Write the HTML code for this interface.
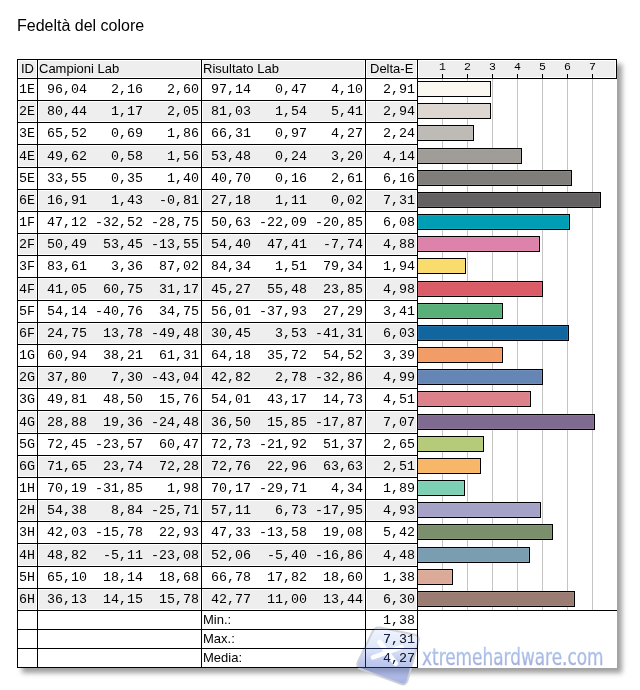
<!DOCTYPE html>
<html><head><meta charset="utf-8"><title>Fedeltà del colore</title>
<style>
html,body{margin:0;padding:0;background:#fff;width:640px;height:690px;overflow:hidden}
body{position:relative}
div{position:absolute;box-sizing:border-box}
.c{box-shadow:inset 0 0 0 1px #fff}
.h{font:13px/17px "Liberation Sans",Arial,sans-serif;color:#000;white-space:nowrap}
.n{font:13.333px/17px "Liberation Mono","Courier New",monospace;color:#000;white-space:pre;width:80px;text-align:right}
.n.id{width:auto;text-align:left}
.tk{font:11.5px/13px "Liberation Mono","Courier New",monospace;text-align:center;color:#000}
#wmt{left:421.5px;top:642px;-webkit-text-stroke:0.4px transparent;font-family:'DejaVu Sans';font-stretch:condensed;font-size:23.5px;line-height:30px;color:transparent;background:linear-gradient(#aec8f0 25%,#a2aad8 85%);-webkit-background-clip:text;background-clip:text;white-space:nowrap;transform:scaleX(0.8);transform-origin:0 0}
#title{left:17px;top:16px;font:16px/19px "Liberation Sans",Arial,sans-serif;color:#000;white-space:nowrap}
</style></head><body>
<div id="title">Fedeltà del colore</div>
<div style="left:17px;top:59px;width:600px;height:609px;background:#fff;box-shadow:5px 5px 5px rgba(0,0,0,.38)"></div>
<div class="c" style="left:18px;top:60px;width:19px;height:18px;background:#eeeeee"></div>
<div class="c" style="left:38px;top:60px;width:163px;height:18px;background:#eeeeee"></div>
<div class="c" style="left:202px;top:60px;width:163px;height:18px;background:#eeeeee"></div>
<div class="c" style="left:366px;top:60px;width:51px;height:18px;background:#eeeeee"></div>
<div class="c" style="left:418px;top:60px;width:198px;height:18px;background:#eeeeee"></div>
<div class="c" style="left:18px;top:101px;width:19px;height:21px;background:#eeeeee"></div>
<div class="c" style="left:38px;top:101px;width:163px;height:21px;background:#eeeeee"></div>
<div class="c" style="left:202px;top:101px;width:163px;height:21px;background:#eeeeee"></div>
<div class="c" style="left:366px;top:101px;width:51px;height:21px;background:#eeeeee"></div>
<div class="c" style="left:18px;top:145px;width:19px;height:22px;background:#eeeeee"></div>
<div class="c" style="left:38px;top:145px;width:163px;height:22px;background:#eeeeee"></div>
<div class="c" style="left:202px;top:145px;width:163px;height:22px;background:#eeeeee"></div>
<div class="c" style="left:366px;top:145px;width:51px;height:22px;background:#eeeeee"></div>
<div class="c" style="left:18px;top:190px;width:19px;height:21px;background:#eeeeee"></div>
<div class="c" style="left:38px;top:190px;width:163px;height:21px;background:#eeeeee"></div>
<div class="c" style="left:202px;top:190px;width:163px;height:21px;background:#eeeeee"></div>
<div class="c" style="left:366px;top:190px;width:51px;height:21px;background:#eeeeee"></div>
<div class="c" style="left:18px;top:234px;width:19px;height:21px;background:#eeeeee"></div>
<div class="c" style="left:38px;top:234px;width:163px;height:21px;background:#eeeeee"></div>
<div class="c" style="left:202px;top:234px;width:163px;height:21px;background:#eeeeee"></div>
<div class="c" style="left:366px;top:234px;width:51px;height:21px;background:#eeeeee"></div>
<div class="c" style="left:18px;top:278px;width:19px;height:22px;background:#eeeeee"></div>
<div class="c" style="left:38px;top:278px;width:163px;height:22px;background:#eeeeee"></div>
<div class="c" style="left:202px;top:278px;width:163px;height:22px;background:#eeeeee"></div>
<div class="c" style="left:366px;top:278px;width:51px;height:22px;background:#eeeeee"></div>
<div class="c" style="left:18px;top:323px;width:19px;height:21px;background:#eeeeee"></div>
<div class="c" style="left:38px;top:323px;width:163px;height:21px;background:#eeeeee"></div>
<div class="c" style="left:202px;top:323px;width:163px;height:21px;background:#eeeeee"></div>
<div class="c" style="left:366px;top:323px;width:51px;height:21px;background:#eeeeee"></div>
<div class="c" style="left:18px;top:367px;width:19px;height:21px;background:#eeeeee"></div>
<div class="c" style="left:38px;top:367px;width:163px;height:21px;background:#eeeeee"></div>
<div class="c" style="left:202px;top:367px;width:163px;height:21px;background:#eeeeee"></div>
<div class="c" style="left:366px;top:367px;width:51px;height:21px;background:#eeeeee"></div>
<div class="c" style="left:18px;top:411px;width:19px;height:22px;background:#eeeeee"></div>
<div class="c" style="left:38px;top:411px;width:163px;height:22px;background:#eeeeee"></div>
<div class="c" style="left:202px;top:411px;width:163px;height:22px;background:#eeeeee"></div>
<div class="c" style="left:366px;top:411px;width:51px;height:22px;background:#eeeeee"></div>
<div class="c" style="left:18px;top:456px;width:19px;height:21px;background:#eeeeee"></div>
<div class="c" style="left:38px;top:456px;width:163px;height:21px;background:#eeeeee"></div>
<div class="c" style="left:202px;top:456px;width:163px;height:21px;background:#eeeeee"></div>
<div class="c" style="left:366px;top:456px;width:51px;height:21px;background:#eeeeee"></div>
<div class="c" style="left:18px;top:500px;width:19px;height:21px;background:#eeeeee"></div>
<div class="c" style="left:38px;top:500px;width:163px;height:21px;background:#eeeeee"></div>
<div class="c" style="left:202px;top:500px;width:163px;height:21px;background:#eeeeee"></div>
<div class="c" style="left:366px;top:500px;width:51px;height:21px;background:#eeeeee"></div>
<div class="c" style="left:18px;top:544px;width:19px;height:22px;background:#eeeeee"></div>
<div class="c" style="left:38px;top:544px;width:163px;height:22px;background:#eeeeee"></div>
<div class="c" style="left:202px;top:544px;width:163px;height:22px;background:#eeeeee"></div>
<div class="c" style="left:366px;top:544px;width:51px;height:22px;background:#eeeeee"></div>
<div class="c" style="left:18px;top:589px;width:19px;height:21px;background:#eeeeee"></div>
<div class="c" style="left:38px;top:589px;width:163px;height:21px;background:#eeeeee"></div>
<div class="c" style="left:202px;top:589px;width:163px;height:21px;background:#eeeeee"></div>
<div class="c" style="left:366px;top:589px;width:51px;height:21px;background:#eeeeee"></div>
<div style="left:442px;top:79px;width:1px;height:531px;background:#c4c4c4"></div>
<div style="left:442px;top:74px;width:1px;height:4px;background:#000"></div>
<div class="tk" style="left:432px;top:60px;width:21px">1</div>
<div style="left:467px;top:79px;width:1px;height:531px;background:#c4c4c4"></div>
<div style="left:467px;top:74px;width:1px;height:4px;background:#000"></div>
<div class="tk" style="left:457px;top:60px;width:21px">2</div>
<div style="left:492px;top:79px;width:1px;height:531px;background:#c4c4c4"></div>
<div style="left:492px;top:74px;width:1px;height:4px;background:#000"></div>
<div class="tk" style="left:482px;top:60px;width:21px">3</div>
<div style="left:517px;top:79px;width:1px;height:531px;background:#c4c4c4"></div>
<div style="left:517px;top:74px;width:1px;height:4px;background:#000"></div>
<div class="tk" style="left:507px;top:60px;width:21px">4</div>
<div style="left:542px;top:79px;width:1px;height:531px;background:#c4c4c4"></div>
<div style="left:542px;top:74px;width:1px;height:4px;background:#000"></div>
<div class="tk" style="left:532px;top:60px;width:21px">5</div>
<div style="left:567px;top:79px;width:1px;height:531px;background:#c4c4c4"></div>
<div style="left:567px;top:74px;width:1px;height:4px;background:#000"></div>
<div class="tk" style="left:557px;top:60px;width:21px">6</div>
<div style="left:592px;top:79px;width:1px;height:531px;background:#c4c4c4"></div>
<div style="left:592px;top:74px;width:1px;height:4px;background:#000"></div>
<div class="tk" style="left:582px;top:60px;width:21px">7</div>
<div style="left:417px;top:81px;width:74px;height:16px;background:#fbf8f1;border:1px solid #000;box-shadow:inset 0 0 0 1px rgba(255,255,255,.08)"></div>
<div style="left:417px;top:103px;width:74px;height:16px;background:#ddd6d1;border:1px solid #000;box-shadow:inset 0 0 0 1px rgba(255,255,255,.08)"></div>
<div style="left:417px;top:125px;width:57px;height:16px;background:#bebbb6;border:1px solid #000;box-shadow:inset 0 0 0 1px rgba(255,255,255,.08)"></div>
<div style="left:417px;top:148px;width:105px;height:16px;background:#a09d98;border:1px solid #000;box-shadow:inset 0 0 0 1px rgba(255,255,255,.08)"></div>
<div style="left:417px;top:170px;width:155px;height:16px;background:#7f7e7a;border:1px solid #000;box-shadow:inset 0 0 0 1px rgba(255,255,255,.08)"></div>
<div style="left:417px;top:192px;width:184px;height:16px;background:#646163;border:1px solid #000;box-shadow:inset 0 0 0 1px rgba(255,255,255,.08)"></div>
<div style="left:417px;top:214px;width:153px;height:16px;background:#009eb4;border:1px solid #000;box-shadow:inset 0 0 0 1px rgba(255,255,255,.08)"></div>
<div style="left:417px;top:236px;width:123px;height:16px;background:#dd82aa;border:1px solid #000;box-shadow:inset 0 0 0 1px rgba(255,255,255,.08)"></div>
<div style="left:417px;top:258px;width:49px;height:16px;background:#f9dc6b;border:1px solid #000;box-shadow:inset 0 0 0 1px rgba(255,255,255,.08)"></div>
<div style="left:417px;top:281px;width:126px;height:16px;background:#d95c67;border:1px solid #000;box-shadow:inset 0 0 0 1px rgba(255,255,255,.08)"></div>
<div style="left:417px;top:303px;width:86px;height:16px;background:#59af78;border:1px solid #000;box-shadow:inset 0 0 0 1px rgba(255,255,255,.08)"></div>
<div style="left:417px;top:325px;width:152px;height:16px;background:#1266a0;border:1px solid #000;box-shadow:inset 0 0 0 1px rgba(255,255,255,.08)"></div>
<div style="left:417px;top:347px;width:86px;height:16px;background:#f29d68;border:1px solid #000;box-shadow:inset 0 0 0 1px rgba(255,255,255,.08)"></div>
<div style="left:417px;top:369px;width:126px;height:16px;background:#6586b5;border:1px solid #000;box-shadow:inset 0 0 0 1px rgba(255,255,255,.08)"></div>
<div style="left:417px;top:391px;width:114px;height:16px;background:#dc808a;border:1px solid #000;box-shadow:inset 0 0 0 1px rgba(255,255,255,.08)"></div>
<div style="left:417px;top:414px;width:178px;height:16px;background:#7f6b8f;border:1px solid #000;box-shadow:inset 0 0 0 1px rgba(255,255,255,.08)"></div>
<div style="left:417px;top:436px;width:67px;height:16px;background:#b5cb7a;border:1px solid #000;box-shadow:inset 0 0 0 1px rgba(255,255,255,.08)"></div>
<div style="left:417px;top:458px;width:64px;height:16px;background:#f8b768;border:1px solid #000;box-shadow:inset 0 0 0 1px rgba(255,255,255,.08)"></div>
<div style="left:417px;top:480px;width:48px;height:16px;background:#7ed0b5;border:1px solid #000;box-shadow:inset 0 0 0 1px rgba(255,255,255,.08)"></div>
<div style="left:417px;top:502px;width:124px;height:16px;background:#a4a2c6;border:1px solid #000;box-shadow:inset 0 0 0 1px rgba(255,255,255,.08)"></div>
<div style="left:417px;top:524px;width:136px;height:16px;background:#7b8f6c;border:1px solid #000;box-shadow:inset 0 0 0 1px rgba(255,255,255,.08)"></div>
<div style="left:417px;top:547px;width:113px;height:16px;background:#7a9db2;border:1px solid #000;box-shadow:inset 0 0 0 1px rgba(255,255,255,.08)"></div>
<div style="left:417px;top:569px;width:36px;height:16px;background:#dcaa98;border:1px solid #000;box-shadow:inset 0 0 0 1px rgba(255,255,255,.08)"></div>
<div style="left:417px;top:591px;width:158px;height:16px;background:#9a7c72;border:1px solid #000;box-shadow:inset 0 0 0 1px rgba(255,255,255,.08)"></div>
<svg style="position:absolute;left:0;top:0" width="640" height="690" viewBox="0 0 640 690">
<defs>
<linearGradient id="lg" x1="0" y1="0" x2="0" y2="1">
<stop offset="0" stop-color="#dce8fa" stop-opacity="0.4"/>
<stop offset="0.35" stop-color="#b8c8f0" stop-opacity="0.45"/>
<stop offset="0.6" stop-color="#8a9ee0" stop-opacity="0.55"/>
<stop offset="1" stop-color="#7080d0" stop-opacity="0.62"/>
</linearGradient>
<linearGradient id="tg" x1="0" y1="0" x2="0" y2="1">
<stop offset="0" stop-color="#acc6ee"/>
<stop offset="1" stop-color="#a6aed8"/>
</linearGradient>
</defs>
<path d="M372.4 632.0 Q375.0 626.6 380.9 627.8 L414.1 634.4 Q420.0 635.6 418.4 641.4 L407.6 680.2 Q406.0 686.0 400.4 683.9 L361.0 669.3 Q355.4 667.2 358.0 661.8 Z" fill="url(#lg)" stroke="#cdcfd6" stroke-opacity="0.9" stroke-width="2"/>
<path d="M379.7 642.2 L395.6 663.5" stroke="#fff" stroke-opacity="0.95" stroke-width="5" stroke-linecap="round"/>
<path d="M372.9 657.3 L401.7 647" stroke="#fff" stroke-opacity="0.95" stroke-width="4.6" stroke-linecap="round"/>
</svg>
<div id="wmt">xtremehardware.com</div>
<div style="left:17px;top:59px;width:600px;height:1px;background:#000"></div>
<div style="left:17px;top:78px;width:600px;height:1px;background:#000"></div>
<div style="left:17px;top:100px;width:401px;height:1px;background:#000"></div>
<div style="left:17px;top:122px;width:401px;height:1px;background:#000"></div>
<div style="left:17px;top:144px;width:401px;height:1px;background:#000"></div>
<div style="left:17px;top:167px;width:401px;height:1px;background:#000"></div>
<div style="left:17px;top:189px;width:401px;height:1px;background:#000"></div>
<div style="left:17px;top:211px;width:401px;height:1px;background:#000"></div>
<div style="left:17px;top:233px;width:401px;height:1px;background:#000"></div>
<div style="left:17px;top:255px;width:401px;height:1px;background:#000"></div>
<div style="left:17px;top:277px;width:401px;height:1px;background:#000"></div>
<div style="left:17px;top:300px;width:401px;height:1px;background:#000"></div>
<div style="left:17px;top:322px;width:401px;height:1px;background:#000"></div>
<div style="left:17px;top:344px;width:401px;height:1px;background:#000"></div>
<div style="left:17px;top:366px;width:401px;height:1px;background:#000"></div>
<div style="left:17px;top:388px;width:401px;height:1px;background:#000"></div>
<div style="left:17px;top:410px;width:401px;height:1px;background:#000"></div>
<div style="left:17px;top:433px;width:401px;height:1px;background:#000"></div>
<div style="left:17px;top:455px;width:401px;height:1px;background:#000"></div>
<div style="left:17px;top:477px;width:401px;height:1px;background:#000"></div>
<div style="left:17px;top:499px;width:401px;height:1px;background:#000"></div>
<div style="left:17px;top:521px;width:401px;height:1px;background:#000"></div>
<div style="left:17px;top:543px;width:401px;height:1px;background:#000"></div>
<div style="left:17px;top:566px;width:401px;height:1px;background:#000"></div>
<div style="left:17px;top:588px;width:401px;height:1px;background:#000"></div>
<div style="left:17px;top:610px;width:600px;height:1px;background:#000"></div>
<div style="left:17px;top:629px;width:401px;height:1px;background:#000"></div>
<div style="left:17px;top:648px;width:401px;height:1px;background:#000"></div>
<div style="left:17px;top:667px;width:401px;height:1px;background:#000"></div>
<div style="left:17px;top:59px;width:1px;height:609px;background:#000"></div>
<div style="left:37px;top:59px;width:1px;height:609px;background:#000"></div>
<div style="left:201px;top:59px;width:1px;height:609px;background:#000"></div>
<div style="left:365px;top:59px;width:1px;height:609px;background:#000"></div>
<div style="left:417px;top:59px;width:1px;height:609px;background:#000"></div>
<div style="left:616px;top:59px;width:1px;height:20px;background:#000"></div>
<div class="h" style="left:21px;top:60px">ID</div>
<div class="h" style="left:39px;top:60px">Campioni Lab</div>
<div class="h" style="left:203px;top:60px">Risultato Lab</div>
<div class="h" style="left:370px;top:60px">Delta-E</div>
<div class="n id" style="left:19px;top:81px">1E</div>
<div class="n" style="left:7px;top:81px">96,04</div>
<div class="n" style="left:63px;top:81px">2,16</div>
<div class="n" style="left:119px;top:81px">2,60</div>
<div class="n" style="left:171px;top:81px">97,14</div>
<div class="n" style="left:227px;top:81px">0,47</div>
<div class="n" style="left:283px;top:81px">4,10</div>
<div class="n" style="left:335px;top:81px">2,91</div>
<div class="n id" style="left:19px;top:103px">2E</div>
<div class="n" style="left:7px;top:103px">80,44</div>
<div class="n" style="left:63px;top:103px">1,17</div>
<div class="n" style="left:119px;top:103px">2,05</div>
<div class="n" style="left:171px;top:103px">81,03</div>
<div class="n" style="left:227px;top:103px">1,54</div>
<div class="n" style="left:283px;top:103px">5,41</div>
<div class="n" style="left:335px;top:103px">2,94</div>
<div class="n id" style="left:19px;top:125px">3E</div>
<div class="n" style="left:7px;top:125px">65,52</div>
<div class="n" style="left:63px;top:125px">0,69</div>
<div class="n" style="left:119px;top:125px">1,86</div>
<div class="n" style="left:171px;top:125px">66,31</div>
<div class="n" style="left:227px;top:125px">0,97</div>
<div class="n" style="left:283px;top:125px">4,27</div>
<div class="n" style="left:335px;top:125px">2,24</div>
<div class="n id" style="left:19px;top:148px">4E</div>
<div class="n" style="left:7px;top:148px">49,62</div>
<div class="n" style="left:63px;top:148px">0,58</div>
<div class="n" style="left:119px;top:148px">1,56</div>
<div class="n" style="left:171px;top:148px">53,48</div>
<div class="n" style="left:227px;top:148px">0,24</div>
<div class="n" style="left:283px;top:148px">3,20</div>
<div class="n" style="left:335px;top:148px">4,14</div>
<div class="n id" style="left:19px;top:170px">5E</div>
<div class="n" style="left:7px;top:170px">33,55</div>
<div class="n" style="left:63px;top:170px">0,35</div>
<div class="n" style="left:119px;top:170px">1,40</div>
<div class="n" style="left:171px;top:170px">40,70</div>
<div class="n" style="left:227px;top:170px">0,16</div>
<div class="n" style="left:283px;top:170px">2,61</div>
<div class="n" style="left:335px;top:170px">6,16</div>
<div class="n id" style="left:19px;top:192px">6E</div>
<div class="n" style="left:7px;top:192px">16,91</div>
<div class="n" style="left:63px;top:192px">1,43</div>
<div class="n" style="left:119px;top:192px">-0,81</div>
<div class="n" style="left:171px;top:192px">27,18</div>
<div class="n" style="left:227px;top:192px">1,11</div>
<div class="n" style="left:283px;top:192px">0,02</div>
<div class="n" style="left:335px;top:192px">7,31</div>
<div class="n id" style="left:19px;top:214px">1F</div>
<div class="n" style="left:7px;top:214px">47,12</div>
<div class="n" style="left:63px;top:214px">-32,52</div>
<div class="n" style="left:119px;top:214px">-28,75</div>
<div class="n" style="left:171px;top:214px">50,63</div>
<div class="n" style="left:227px;top:214px">-22,09</div>
<div class="n" style="left:283px;top:214px">-20,85</div>
<div class="n" style="left:335px;top:214px">6,08</div>
<div class="n id" style="left:19px;top:236px">2F</div>
<div class="n" style="left:7px;top:236px">50,49</div>
<div class="n" style="left:63px;top:236px">53,45</div>
<div class="n" style="left:119px;top:236px">-13,55</div>
<div class="n" style="left:171px;top:236px">54,40</div>
<div class="n" style="left:227px;top:236px">47,41</div>
<div class="n" style="left:283px;top:236px">-7,74</div>
<div class="n" style="left:335px;top:236px">4,88</div>
<div class="n id" style="left:19px;top:258px">3F</div>
<div class="n" style="left:7px;top:258px">83,61</div>
<div class="n" style="left:63px;top:258px">3,36</div>
<div class="n" style="left:119px;top:258px">87,02</div>
<div class="n" style="left:171px;top:258px">84,34</div>
<div class="n" style="left:227px;top:258px">1,51</div>
<div class="n" style="left:283px;top:258px">79,34</div>
<div class="n" style="left:335px;top:258px">1,94</div>
<div class="n id" style="left:19px;top:281px">4F</div>
<div class="n" style="left:7px;top:281px">41,05</div>
<div class="n" style="left:63px;top:281px">60,75</div>
<div class="n" style="left:119px;top:281px">31,17</div>
<div class="n" style="left:171px;top:281px">45,27</div>
<div class="n" style="left:227px;top:281px">55,48</div>
<div class="n" style="left:283px;top:281px">23,85</div>
<div class="n" style="left:335px;top:281px">4,98</div>
<div class="n id" style="left:19px;top:303px">5F</div>
<div class="n" style="left:7px;top:303px">54,14</div>
<div class="n" style="left:63px;top:303px">-40,76</div>
<div class="n" style="left:119px;top:303px">34,75</div>
<div class="n" style="left:171px;top:303px">56,01</div>
<div class="n" style="left:227px;top:303px">-37,93</div>
<div class="n" style="left:283px;top:303px">27,29</div>
<div class="n" style="left:335px;top:303px">3,41</div>
<div class="n id" style="left:19px;top:325px">6F</div>
<div class="n" style="left:7px;top:325px">24,75</div>
<div class="n" style="left:63px;top:325px">13,78</div>
<div class="n" style="left:119px;top:325px">-49,48</div>
<div class="n" style="left:171px;top:325px">30,45</div>
<div class="n" style="left:227px;top:325px">3,53</div>
<div class="n" style="left:283px;top:325px">-41,31</div>
<div class="n" style="left:335px;top:325px">6,03</div>
<div class="n id" style="left:19px;top:347px">1G</div>
<div class="n" style="left:7px;top:347px">60,94</div>
<div class="n" style="left:63px;top:347px">38,21</div>
<div class="n" style="left:119px;top:347px">61,31</div>
<div class="n" style="left:171px;top:347px">64,18</div>
<div class="n" style="left:227px;top:347px">35,72</div>
<div class="n" style="left:283px;top:347px">54,52</div>
<div class="n" style="left:335px;top:347px">3,39</div>
<div class="n id" style="left:19px;top:369px">2G</div>
<div class="n" style="left:7px;top:369px">37,80</div>
<div class="n" style="left:63px;top:369px">7,30</div>
<div class="n" style="left:119px;top:369px">-43,04</div>
<div class="n" style="left:171px;top:369px">42,82</div>
<div class="n" style="left:227px;top:369px">2,78</div>
<div class="n" style="left:283px;top:369px">-32,86</div>
<div class="n" style="left:335px;top:369px">4,99</div>
<div class="n id" style="left:19px;top:391px">3G</div>
<div class="n" style="left:7px;top:391px">49,81</div>
<div class="n" style="left:63px;top:391px">48,50</div>
<div class="n" style="left:119px;top:391px">15,76</div>
<div class="n" style="left:171px;top:391px">54,01</div>
<div class="n" style="left:227px;top:391px">43,17</div>
<div class="n" style="left:283px;top:391px">14,73</div>
<div class="n" style="left:335px;top:391px">4,51</div>
<div class="n id" style="left:19px;top:414px">4G</div>
<div class="n" style="left:7px;top:414px">28,88</div>
<div class="n" style="left:63px;top:414px">19,36</div>
<div class="n" style="left:119px;top:414px">-24,48</div>
<div class="n" style="left:171px;top:414px">36,50</div>
<div class="n" style="left:227px;top:414px">15,85</div>
<div class="n" style="left:283px;top:414px">-17,87</div>
<div class="n" style="left:335px;top:414px">7,07</div>
<div class="n id" style="left:19px;top:436px">5G</div>
<div class="n" style="left:7px;top:436px">72,45</div>
<div class="n" style="left:63px;top:436px">-23,57</div>
<div class="n" style="left:119px;top:436px">60,47</div>
<div class="n" style="left:171px;top:436px">72,73</div>
<div class="n" style="left:227px;top:436px">-21,92</div>
<div class="n" style="left:283px;top:436px">51,37</div>
<div class="n" style="left:335px;top:436px">2,65</div>
<div class="n id" style="left:19px;top:458px">6G</div>
<div class="n" style="left:7px;top:458px">71,65</div>
<div class="n" style="left:63px;top:458px">23,74</div>
<div class="n" style="left:119px;top:458px">72,28</div>
<div class="n" style="left:171px;top:458px">72,76</div>
<div class="n" style="left:227px;top:458px">22,96</div>
<div class="n" style="left:283px;top:458px">63,63</div>
<div class="n" style="left:335px;top:458px">2,51</div>
<div class="n id" style="left:19px;top:480px">1H</div>
<div class="n" style="left:7px;top:480px">70,19</div>
<div class="n" style="left:63px;top:480px">-31,85</div>
<div class="n" style="left:119px;top:480px">1,98</div>
<div class="n" style="left:171px;top:480px">70,17</div>
<div class="n" style="left:227px;top:480px">-29,71</div>
<div class="n" style="left:283px;top:480px">4,34</div>
<div class="n" style="left:335px;top:480px">1,89</div>
<div class="n id" style="left:19px;top:502px">2H</div>
<div class="n" style="left:7px;top:502px">54,38</div>
<div class="n" style="left:63px;top:502px">8,84</div>
<div class="n" style="left:119px;top:502px">-25,71</div>
<div class="n" style="left:171px;top:502px">57,11</div>
<div class="n" style="left:227px;top:502px">6,73</div>
<div class="n" style="left:283px;top:502px">-17,95</div>
<div class="n" style="left:335px;top:502px">4,93</div>
<div class="n id" style="left:19px;top:524px">3H</div>
<div class="n" style="left:7px;top:524px">42,03</div>
<div class="n" style="left:63px;top:524px">-15,78</div>
<div class="n" style="left:119px;top:524px">22,93</div>
<div class="n" style="left:171px;top:524px">47,33</div>
<div class="n" style="left:227px;top:524px">-13,58</div>
<div class="n" style="left:283px;top:524px">19,08</div>
<div class="n" style="left:335px;top:524px">5,42</div>
<div class="n id" style="left:19px;top:547px">4H</div>
<div class="n" style="left:7px;top:547px">48,82</div>
<div class="n" style="left:63px;top:547px">-5,11</div>
<div class="n" style="left:119px;top:547px">-23,08</div>
<div class="n" style="left:171px;top:547px">52,06</div>
<div class="n" style="left:227px;top:547px">-5,40</div>
<div class="n" style="left:283px;top:547px">-16,86</div>
<div class="n" style="left:335px;top:547px">4,48</div>
<div class="n id" style="left:19px;top:569px">5H</div>
<div class="n" style="left:7px;top:569px">65,10</div>
<div class="n" style="left:63px;top:569px">18,14</div>
<div class="n" style="left:119px;top:569px">18,68</div>
<div class="n" style="left:171px;top:569px">66,78</div>
<div class="n" style="left:227px;top:569px">17,82</div>
<div class="n" style="left:283px;top:569px">18,60</div>
<div class="n" style="left:335px;top:569px">1,38</div>
<div class="n id" style="left:19px;top:591px">6H</div>
<div class="n" style="left:7px;top:591px">36,13</div>
<div class="n" style="left:63px;top:591px">14,15</div>
<div class="n" style="left:119px;top:591px">15,78</div>
<div class="n" style="left:171px;top:591px">42,77</div>
<div class="n" style="left:227px;top:591px">11,00</div>
<div class="n" style="left:283px;top:591px">13,44</div>
<div class="n" style="left:335px;top:591px">6,30</div>
<div class="h" style="left:203px;top:611px">Min.:</div>
<div class="n" style="left:335px;top:612px">1,38</div>
<div class="h" style="left:203px;top:630px">Max.:</div>
<div class="n" style="left:335px;top:631px">7,31</div>
<div class="h" style="left:203px;top:649px">Media:</div>
<div class="n" style="left:335px;top:650px">4,27</div>
<svg style="position:absolute;left:0;top:0;mix-blend-mode:lighten" width="640" height="690" viewBox="0 0 640 690"><path d="M372.4 632.0 Q375.0 626.6 380.9 627.8 L414.1 634.4 Q420.0 635.6 418.4 641.4 L407.6 680.2 Q406.0 686.0 400.4 683.9 L361.0 669.3 Q355.4 667.2 358.0 661.8 Z" fill="#18204c"/></svg>
</body></html>
